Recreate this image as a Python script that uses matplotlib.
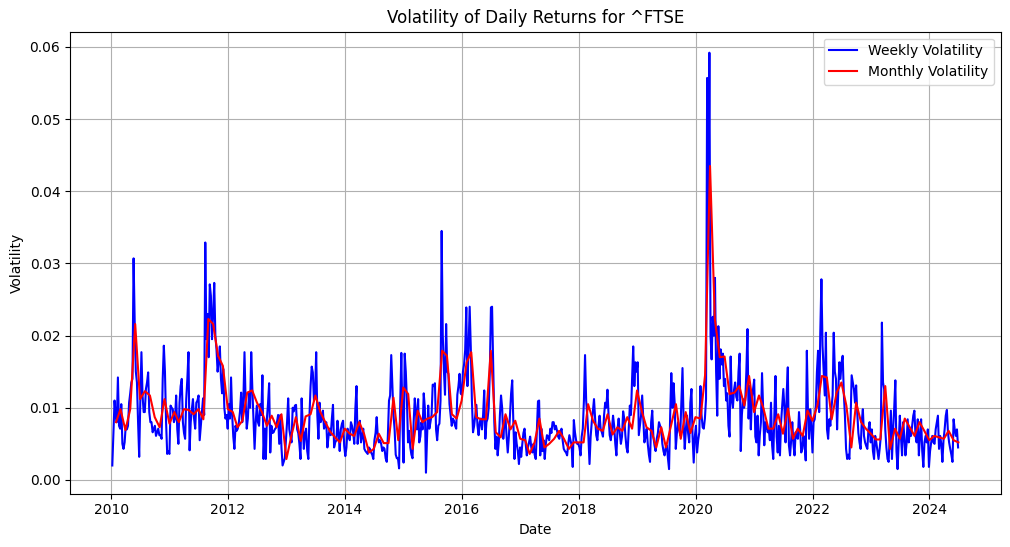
import matplotlib
matplotlib.use("Agg")
import matplotlib.pyplot as plt
import pandas as pd

# ---- weekly volatility (std of daily returns in each week) ----
weekly_2010 = [0.0020, 0.0065, 0.0110, 0.0090, 0.0080, 0.0142, 0.0075, 0.0071, 0.0105, 0.0050,
               0.0043, 0.0052, 0.0075, 0.0070, 0.0075, 0.0107, 0.0120, 0.0135, 0.0140, 0.0307,
               0.0218, 0.0150, 0.0135, 0.0080, 0.0032, 0.0110, 0.0177, 0.0117, 0.0094, 0.0094,
               0.0126, 0.0135, 0.0149, 0.0094, 0.0080, 0.0080, 0.0066, 0.0070, 0.0075, 0.0061,
               0.0066, 0.0071, 0.0062, 0.0062, 0.0057, 0.0140, 0.0186, 0.0150, 0.0080, 0.0036,
               0.0040, 0.0036]
weekly_2011 = [0.0103, 0.0100, 0.0098, 0.0080, 0.0085, 0.0117, 0.0070, 0.0050, 0.0107, 0.0130,
               0.0140, 0.0080, 0.0065, 0.0057, 0.0112, 0.0140, 0.0177, 0.0041, 0.0080, 0.0098,
               0.0112, 0.0085, 0.0071, 0.0107, 0.0110, 0.0117, 0.0055, 0.0075, 0.0094, 0.0113,
               0.0090, 0.0329, 0.0195, 0.0230, 0.0170, 0.0271, 0.0255, 0.0195, 0.0230, 0.0273,
               0.0200, 0.0181, 0.0150, 0.0165, 0.0185, 0.0140, 0.0120, 0.0154, 0.0100, 0.0085,
               0.0090, 0.0071]
weekly_2012 = [0.0105, 0.0085, 0.0142, 0.0090, 0.0060, 0.0043, 0.0075, 0.0068, 0.0071, 0.0080,
               0.0095, 0.0121, 0.0080, 0.0110, 0.0177, 0.0110, 0.0071, 0.0085, 0.0120, 0.0100,
               0.0177, 0.0127, 0.0085, 0.0043, 0.0080, 0.0103, 0.0080, 0.0075, 0.0105, 0.0090,
               0.0145, 0.0029, 0.0071, 0.0029, 0.0085, 0.0106, 0.0134, 0.0038, 0.0075, 0.0065,
               0.0066, 0.0070, 0.0072, 0.0080, 0.0090, 0.0050, 0.0090, 0.0045, 0.0020, 0.0025,
               0.0030, 0.0055]
weekly_2013 = [0.0080, 0.0113, 0.0070, 0.0060, 0.0052, 0.0100, 0.0095, 0.0103, 0.0104, 0.0070,
               0.0065, 0.0050, 0.0029, 0.0113, 0.0075, 0.0043, 0.0065, 0.0071, 0.0040, 0.0029,
               0.0089, 0.0130, 0.0157, 0.0149, 0.0110, 0.0120, 0.0177, 0.0090, 0.0057, 0.0107,
               0.0080, 0.0085, 0.0096, 0.0071, 0.0075, 0.0080, 0.0045, 0.0060, 0.0071, 0.0062,
               0.0085, 0.0104, 0.0045, 0.0052, 0.0055, 0.0082, 0.0065, 0.0040, 0.0070, 0.0078,
               0.0082, 0.0047]
weekly_2014 = [0.0033, 0.0045, 0.0071, 0.0060, 0.0055, 0.0080, 0.0075, 0.0066, 0.0050, 0.0100,
               0.0130, 0.0050, 0.0070, 0.0082, 0.0052, 0.0060, 0.0071, 0.0043, 0.0040, 0.0038,
               0.0036, 0.0045, 0.0043, 0.0038, 0.0035, 0.0029, 0.0055, 0.0065, 0.0087, 0.0060,
               0.0052, 0.0055, 0.0050, 0.0040, 0.0045, 0.0043, 0.0030, 0.0025, 0.0062, 0.0110,
               0.0117, 0.0173, 0.0131, 0.0090, 0.0070, 0.0035, 0.0030, 0.0030, 0.0016, 0.0105,
               0.0176, 0.0080]
weekly_2015 = [0.0024, 0.0175, 0.0150, 0.0110, 0.0052, 0.0068, 0.0045, 0.0035, 0.0030, 0.0080,
               0.0113, 0.0095, 0.0070, 0.0112, 0.0052, 0.0060, 0.0080, 0.0070, 0.0120, 0.0100,
               0.0010, 0.0060, 0.0103, 0.0071, 0.0080, 0.0090, 0.0132, 0.0130, 0.0134, 0.0070,
               0.0055, 0.0075, 0.0078, 0.0110, 0.0345, 0.0200, 0.0152, 0.0118, 0.0216, 0.0150,
               0.0147, 0.0105, 0.0090, 0.0075, 0.0085, 0.0082, 0.0075, 0.0071, 0.0118, 0.0130,
               0.0147, 0.0120]
weekly_2016 = [0.0118, 0.0150, 0.0160, 0.0180, 0.0239, 0.0130, 0.0180, 0.0240, 0.0184, 0.0110,
               0.0066, 0.0075, 0.0090, 0.0104, 0.0075, 0.0062, 0.0080, 0.0085, 0.0070, 0.0090,
               0.0124, 0.0057, 0.0080, 0.0085, 0.0100, 0.0150, 0.0239, 0.0240, 0.0160, 0.0080,
               0.0043, 0.0060, 0.0034, 0.0052, 0.0090, 0.0117, 0.0100, 0.0057, 0.0080, 0.0085,
               0.0060, 0.0038, 0.0060, 0.0090, 0.0120, 0.0138, 0.0080, 0.0029, 0.0066, 0.0050,
               0.0040, 0.0022, 0.0045]
weekly_2017 = [0.0032, 0.0050, 0.0065, 0.0071, 0.0050, 0.0034, 0.0045, 0.0052, 0.0060, 0.0045,
               0.0038, 0.0050, 0.0035, 0.0029, 0.0070, 0.0109, 0.0110, 0.0034, 0.0071, 0.0040,
               0.0055, 0.0029, 0.0050, 0.0062, 0.0060, 0.0055, 0.0071, 0.0065, 0.0080, 0.0080,
               0.0070, 0.0075, 0.0068, 0.0060, 0.0057, 0.0065, 0.0071, 0.0055, 0.0043, 0.0040,
               0.0038, 0.0034, 0.0050, 0.0062, 0.0055, 0.0048, 0.0018, 0.0083, 0.0066, 0.0055,
               0.0050, 0.0050]
weekly_2018 = [0.0045, 0.0034, 0.0060, 0.0071, 0.0110, 0.0173, 0.0110, 0.0089, 0.0060, 0.0022,
               0.0060, 0.0080, 0.0095, 0.0112, 0.0085, 0.0062, 0.0055, 0.0075, 0.0089, 0.0070,
               0.0066, 0.0060, 0.0090, 0.0107, 0.0100, 0.0125, 0.0090, 0.0062, 0.0055, 0.0070,
               0.0089, 0.0075, 0.0050, 0.0034, 0.0070, 0.0085, 0.0065, 0.0050, 0.0060, 0.0095,
               0.0085, 0.0062, 0.0045, 0.0038, 0.0070, 0.0103, 0.0090, 0.0140, 0.0185, 0.0130,
               0.0163, 0.0150]
weekly_2019 = [0.0163, 0.0062, 0.0075, 0.0089, 0.0117, 0.0085, 0.0052, 0.0060, 0.0071, 0.0050,
               0.0035, 0.0025, 0.0080, 0.0096, 0.0060, 0.0048, 0.0040, 0.0057, 0.0065, 0.0080,
               0.0075, 0.0071, 0.0050, 0.0040, 0.0034, 0.0045, 0.0048, 0.0030, 0.0015, 0.0090,
               0.0148, 0.0100, 0.0134, 0.0107, 0.0043, 0.0065, 0.0080, 0.0070, 0.0062, 0.0110,
               0.0155, 0.0080, 0.0043, 0.0070, 0.0089, 0.0065, 0.0052, 0.0107, 0.0126, 0.0060,
               0.0024, 0.0060]
weekly_2020 = [0.0075, 0.0038, 0.0055, 0.0066, 0.0130, 0.0090, 0.0073, 0.0071, 0.0085, 0.0112,
               0.0557, 0.0320, 0.0592, 0.0200, 0.0167, 0.0226, 0.0200, 0.0280, 0.0150, 0.0089,
               0.0213, 0.0140, 0.0181, 0.0160, 0.0175, 0.0130, 0.0140, 0.0110, 0.0120, 0.0075,
               0.0060, 0.0171, 0.0110, 0.0100, 0.0125, 0.0135, 0.0115, 0.0110, 0.0150, 0.0175,
               0.0040, 0.0090, 0.0112, 0.0100, 0.0110, 0.0150, 0.0209, 0.0085, 0.0130, 0.0070,
               0.0115, 0.0126]
weekly_2021 = [0.0139, 0.0060, 0.0052, 0.0089, 0.0034, 0.0062, 0.0080, 0.0148, 0.0100, 0.0048,
               0.0080, 0.0075, 0.0066, 0.0070, 0.0055, 0.0107, 0.0048, 0.0029, 0.0090, 0.0144,
               0.0060, 0.0038, 0.0075, 0.0034, 0.0080, 0.0103, 0.0126, 0.0100, 0.0052, 0.0120,
               0.0156, 0.0048, 0.0034, 0.0055, 0.0080, 0.0050, 0.0034, 0.0066, 0.0060, 0.0057,
               0.0094, 0.0070, 0.0038, 0.0043, 0.0061, 0.0050, 0.0027, 0.0179, 0.0094, 0.0057,
               0.0098, 0.0075, 0.0038]
weekly_2022 = [0.0080, 0.0084, 0.0103, 0.0150, 0.0179, 0.0094, 0.0204, 0.0278, 0.0186, 0.0150,
               0.0117, 0.0204, 0.0070, 0.0057, 0.0084, 0.0075, 0.0100, 0.0117, 0.0204, 0.0150,
               0.0140, 0.0070, 0.0120, 0.0163, 0.0140, 0.0163, 0.0172, 0.0120, 0.0089, 0.0043,
               0.0029, 0.0035, 0.0029, 0.0080, 0.0145, 0.0135, 0.0126, 0.0107, 0.0131, 0.0093,
               0.0065, 0.0052, 0.0043, 0.0080, 0.0098, 0.0061, 0.0052, 0.0047, 0.0043, 0.0070,
               0.0080, 0.0052]
weekly_2023 = [0.0070, 0.0040, 0.0029, 0.0061, 0.0052, 0.0040, 0.0029, 0.0043, 0.0060, 0.0218,
               0.0135, 0.0126, 0.0070, 0.0045, 0.0029, 0.0025, 0.0060, 0.0096, 0.0029, 0.0070,
               0.0100, 0.0138, 0.0040, 0.0015, 0.0052, 0.0089, 0.0060, 0.0034, 0.0080, 0.0061,
               0.0034, 0.0050, 0.0084, 0.0052, 0.0070, 0.0061, 0.0075, 0.0089, 0.0096, 0.0061,
               0.0052, 0.0084, 0.0034, 0.0061, 0.0084, 0.0040, 0.0018, 0.0052, 0.0061, 0.0052,
               0.0070, 0.0018]
weekly_2024 = [0.0040, 0.0052, 0.0061, 0.0052, 0.0050, 0.0070, 0.0080, 0.0089, 0.0043, 0.0061,
               0.0050, 0.0025, 0.0055, 0.0070, 0.0089, 0.0097, 0.0065, 0.0052, 0.0043, 0.0035,
               0.0025, 0.0084, 0.0070, 0.0061, 0.0070, 0.0045]

# ---- monthly volatility (std of daily returns in each month) ----
monthly_2010 = [0.0080, 0.0098, 0.0069, 0.0098, 0.0216, 0.0112, 0.0123, 0.0117, 0.0087, 0.0073, 0.0112, 0.0078]
monthly_2011 = [0.0094, 0.0080, 0.0098, 0.0097, 0.0091, 0.0098, 0.0084, 0.0223, 0.0216, 0.0172, 0.0158, 0.0098]
monthly_2012 = [0.0094, 0.0073, 0.0082, 0.0121, 0.0124, 0.0107, 0.0094, 0.0075, 0.0089, 0.0073, 0.0091, 0.0029]
monthly_2013 = [0.0061, 0.0087, 0.0054, 0.0088, 0.0091, 0.0117, 0.0094, 0.0080, 0.0067, 0.0059, 0.0052, 0.0071]
monthly_2014 = [0.0064, 0.0061, 0.0080, 0.0064, 0.0038, 0.0043, 0.0064, 0.0051, 0.0051, 0.0114, 0.0055, 0.0128]
monthly_2015 = [0.0119, 0.0043, 0.0096, 0.0080, 0.0085, 0.0087, 0.0094, 0.0179, 0.0172, 0.0091, 0.0085, 0.0110]
monthly_2016 = [0.0163, 0.0177, 0.0087, 0.0084, 0.0084, 0.0179, 0.0066, 0.0059, 0.0091, 0.0070, 0.0082, 0.0057]
monthly_2017 = [0.0055, 0.0036, 0.0052, 0.0085, 0.0045, 0.0050, 0.0057, 0.0068, 0.0057, 0.0043, 0.0052, 0.0052]
monthly_2018 = [0.0052, 0.0105, 0.0082, 0.0071, 0.0068, 0.0091, 0.0063, 0.0073, 0.0068, 0.0087, 0.0071, 0.0124]
monthly_2019 = [0.0094, 0.0073, 0.0068, 0.0045, 0.0073, 0.0045, 0.0075, 0.0105, 0.0057, 0.0094, 0.0065, 0.0087]
monthly_2020 = [0.0085, 0.0145, 0.0435, 0.0223, 0.0170, 0.0171, 0.0119, 0.0121, 0.0130, 0.0103, 0.0144, 0.0094]
monthly_2021 = [0.0117, 0.0099, 0.0071, 0.0071, 0.0091, 0.0064, 0.0099, 0.0057, 0.0071, 0.0061, 0.0096, 0.0082]
monthly_2022 = [0.0103, 0.0144, 0.0142, 0.0084, 0.0121, 0.0135, 0.0103, 0.0045, 0.0107, 0.0080, 0.0071, 0.0064]
monthly_2023 = [0.0056, 0.0056, 0.0130, 0.0043, 0.0071, 0.0057, 0.0085, 0.0073, 0.0061, 0.0080, 0.0068, 0.0055]
monthly_2024 = [0.0061, 0.0059, 0.0057, 0.0068, 0.0055, 0.0052]

weekly_vol = (weekly_2010 + weekly_2011 + weekly_2012 + weekly_2013 + weekly_2014 + weekly_2015
              + weekly_2016 + weekly_2017 + weekly_2018 + weekly_2019 + weekly_2020 + weekly_2021
              + weekly_2022 + weekly_2023 + weekly_2024)
monthly_vol = (monthly_2010 + monthly_2011 + monthly_2012 + monthly_2013 + monthly_2014 + monthly_2015
               + monthly_2016 + monthly_2017 + monthly_2018 + monthly_2019 + monthly_2020 + monthly_2021
               + monthly_2022 + monthly_2023 + monthly_2024)

weekly_dates = pd.date_range("2010-01-08", periods=len(weekly_vol), freq="W-FRI")
monthly_dates = pd.date_range("2010-01-31", periods=len(monthly_vol), freq="ME")

fig = plt.figure(figsize=(10.1, 5.47), dpi=100)
ax = fig.add_axes([70 / 1010, (547 - 493.7) / 547, 930.7 / 1010, 462 / 547])

ax.plot(weekly_dates, weekly_vol, color="blue", label="Weekly Volatility")
ax.plot(monthly_dates, monthly_vol, color="red", label="Monthly Volatility")

ax.set_title("Volatility of Daily Returns for ^FTSE")
ax.set_xlabel("Date")
ax.set_ylabel("Volatility")
ax.legend(loc="upper right")
ax.grid(True)

fig.savefig("out.png", dpi=100)
